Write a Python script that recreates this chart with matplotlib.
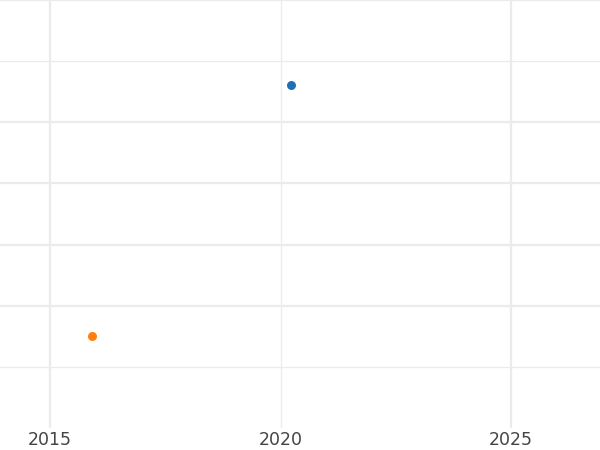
import matplotlib
matplotlib.use("Agg")
import matplotlib.pyplot as plt

# data
series_x = [2020.22, 2015.91]
series_y = [5.61, 1.51]
series_colors = ["#1f6fb4", "#ff7f0e"]
year_ticks = [2015, 2020, 2025]

fig = plt.figure(figsize=(6, 4.5), dpi=100)
ax = fig.add_axes([0, 22 / 450, 1, 428 / 450])

for x, y, c in zip(series_x, series_y, series_colors):
    ax.scatter([x], [y], s=42, color=c, zorder=3, linewidths=0)

ax.set_xlim(2013.915, 2026.93)
ax.set_ylim(0, 7)

# major / minor grid, thick on the major ones
ax.set_xticks(year_ticks[::2])
ax.set_xticks([2020], minor=True)
ax.set_yticks([2, 3, 4, 5])
ax.set_yticks([1, 6, 7], minor=True)
ax.grid(True, which="major", color="#ebebeb", linewidth=1.6)
ax.grid(True, which="minor", color="#ebebeb", linewidth=0.9)
ax.set_axisbelow(True)

ax.set_xticklabels(["2015", "2025"])
ax.set_xticklabels(["2020"], minor=True)
ax.tick_params(axis="x", which="both", length=0, pad=2.5, labelsize=12.5, labelcolor="#444444")
ax.tick_params(axis="y", which="both", length=0, labelleft=False)

for s in ax.spines.values():
    s.set_visible(False)

fig.savefig("out.png", dpi=100)
